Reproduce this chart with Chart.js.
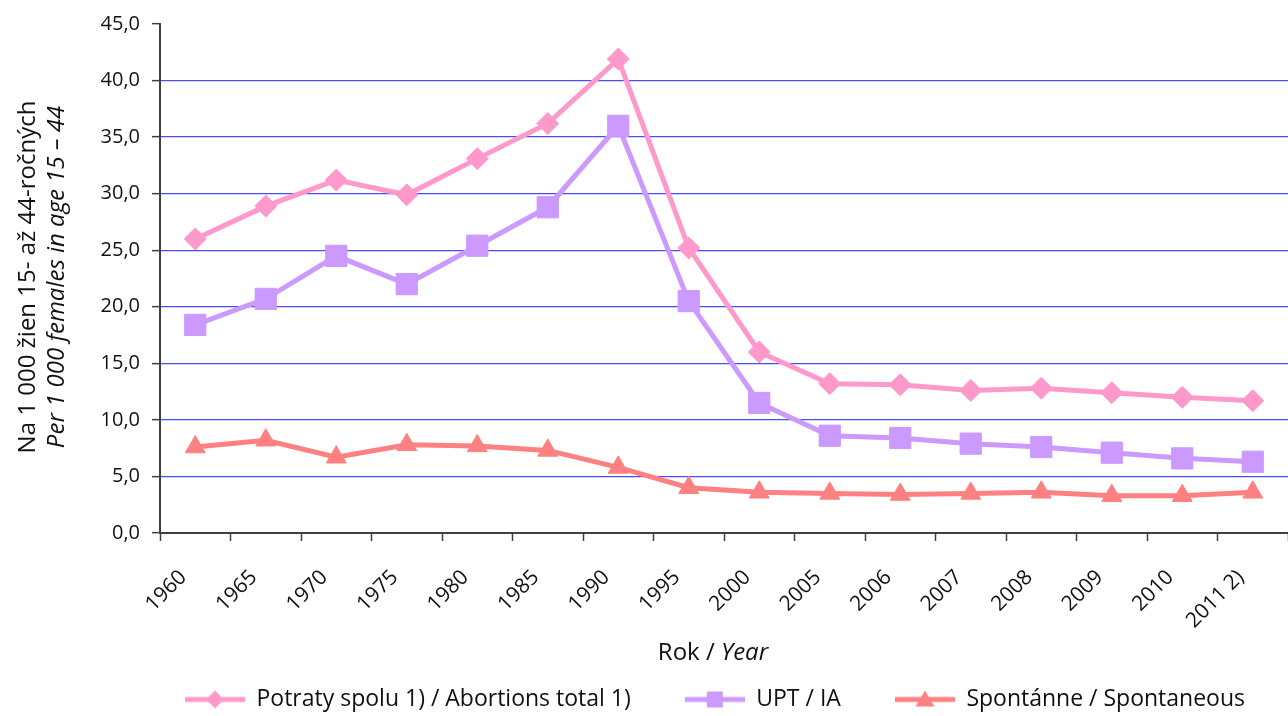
<!DOCTYPE html>
<html><head><meta charset="utf-8">
<script src="https://cdn.jsdelivr.net/npm/chart.js@4/dist/chart.umd.min.js"></script>
<style>html,body{margin:0;padding:0;background:#fff;}#wrap{width:1288px;height:716px;}</style>
</head><body><div id="wrap"><canvas id="c" width="1288" height="716"></canvas></div>
<script>
const years = ['1960','1965','1970','1975','1980','1985','1990','1995','2000','2005','2006','2007','2008','2009','2010','2011 2)'];
const totalAbortions = [26.0,28.9,31.2,29.9,33.1,36.2,41.9,25.2,16.0,13.2,13.1,12.6,12.8,12.4,12.0,11.7];
const inducedAbortions = [18.4,20.7,24.5,22.0,25.4,28.8,36.0,20.5,11.5,8.6,8.4,7.9,7.6,7.1,6.6,6.3];
const spontaneousAbortions = [7.6,8.2,6.7,7.8,7.7,7.3,5.8,4.0,3.6,3.5,3.4,3.5,3.6,3.3,3.3,3.6];
const yTickLabels = ['0,0','5,0','10,0','15,0','20,0','25,0','30,0','35,0','40,0','45,0'];
const seriesNames = ['Potraty spolu 1) / Abortions total 1)','UPT / IA','Spontánne / Spontaneous'];
const yTitle1 = 'Na 1 000 žien 15- až 44-ročných';
const yTitle2 = 'Per 1 000 females in age 15 – 44';
const xTitleA = 'Rok / ';
const xTitleB = 'Year';

const FONT = 'Open Sans';
const PINK = '#FF99CC', PURPLE = '#CC99FF', RED = '#FF8080';
const PAD_BOTTOM = -5;

function legendIcon(color, shape) {
  const cv = document.createElement('canvas');
  cv.width = 60; cv.height = 22;
  const g = cv.getContext('2d');
  g.strokeStyle = color; g.lineWidth = 5;
  g.beginPath(); g.moveTo(0, 11); g.lineTo(60, 11); g.stroke();
  g.fillStyle = color;
  g.beginPath();
  if (shape === 'diamond') { g.moveTo(30, 2); g.lineTo(39, 11); g.lineTo(30, 20); g.lineTo(21, 11); }
  else if (shape === 'square') { g.rect(22, 3, 16, 16); }
  else { g.moveTo(30, 2); g.lineTo(39.5, 18); g.lineTo(20.5, 18); }
  g.closePath(); g.fill();
  return cv;
}
const icons = [legendIcon(PINK,'diamond'), legendIcon(PURPLE,'square'), legendIcon(RED,'triangle')];

const TITLE_SIZE = 24;
const titlesPlugin = {
  id: 'titles',
  afterDraw(chart) {
    const ctx = chart.ctx;
    ctx.save();
    ctx.fillStyle = '#111';
    ctx.textAlign = 'center';
    ctx.textBaseline = 'middle';
    ctx.translate(28, 277);
    ctx.rotate(-Math.PI / 2);
    ctx.font = TITLE_SIZE + 'px "' + FONT + '"';
    ctx.fillText(yTitle1, 0, 0);
    ctx.font = 'italic ' + TITLE_SIZE + 'px "' + FONT + '"';
    ctx.fillText(yTitle2, 0, 29);
    ctx.restore();
    ctx.save();
    ctx.fillStyle = '#111';
    ctx.textBaseline = 'middle';
    ctx.textAlign = 'left';
    ctx.font = TITLE_SIZE + 'px "' + FONT + '"';
    const wa = ctx.measureText(xTitleA).width;
    ctx.font = 'italic ' + TITLE_SIZE + 'px "' + FONT + '"';
    const wb = ctx.measureText(xTitleB).width;
    const x0 = 713 - (wa + wb) / 2;
    ctx.font = TITLE_SIZE + 'px "' + FONT + '"';
    ctx.fillText(xTitleA, x0, 653);
    ctx.font = 'italic ' + TITLE_SIZE + 'px "' + FONT + '"';
    ctx.fillText(xTitleB, x0 + wa, 653);
    ctx.restore();
  }
};
const legendShift = {
  id: 'legendShift',
  afterLayout(chart) {
    const lg = chart.legend; if (!lg) return;
    const dx = 71;
    lg.left += dx; lg.right += dx;
  }
};

new Chart(document.getElementById('c'), {
  type: 'line',
  data: {
    labels: years,
    datasets: [
      { label: seriesNames[0], data: totalAbortions, borderColor: PINK, backgroundColor: PINK, borderWidth: 5,
        pointStyle: 'rectRot', pointRadius: 11, pointBorderWidth: 1, pointBorderColor: PINK, pointBackgroundColor: PINK, tension: 0, clip: false },
      { label: seriesNames[1], data: inducedAbortions, borderColor: PURPLE, backgroundColor: PURPLE, borderWidth: 5,
        pointStyle: 'rect', pointRadius: 15, pointBorderWidth: 1, pointBorderColor: PURPLE, pointBackgroundColor: PURPLE, tension: 0, clip: false },
      { label: seriesNames[2], data: spontaneousAbortions, borderColor: RED, backgroundColor: RED, borderWidth: 5,
        pointStyle: 'triangle', pointRadius: 11.5, pointBorderWidth: 1, pointBorderColor: RED, pointBackgroundColor: RED, tension: 0, clip: false }
    ]
  },
  options: {
    responsive: false,
    animation: false,
    devicePixelRatio: 1,
    layout: { autoPadding: false, padding: { top: 20, right: 0, left: 0, bottom: PAD_BOTTOM } },
    plugins: {
      tooltip: { enabled: false },
      legend: {
        position: 'bottom',
        labels: {
          usePointStyle: true,
          pointStyleWidth: 60,
          padding: 54,
          color: '#111',
          font: { family: FONT, size: 23 },
          generateLabels(chart) {
            return chart.data.datasets.map((ds, i) => ({
              text: ds.label, pointStyle: icons[i], fillStyle: ds.borderColor, strokeStyle: ds.borderColor,
              lineWidth: 0, datasetIndex: i, hidden: false, fontColor: '#111'
            }));
          }
        }
      }
    },
    scales: {
      x: {
        offset: true,
        grid: { display: true, drawOnChartArea: false, offset: true, tickLength: 8, tickColor: '#404040', tickWidth: 1.5 },
        border: { color: '#404040', width: 2 },
        ticks: { color: '#111', font: { family: FONT, size: 21 }, minRotation: 45, maxRotation: 45, autoSkip: false, padding: 24, labelOffset: -12 },
        afterFit(s) {
          const lh = s.chart.legend ? s.chart.legend.height : 40;
          s.height = 716 - 533 - lh - PAD_BOTTOM;
          s.paddingRight = 0; s.paddingLeft = 0;
        }
      },
      y: {
        min: 0, max: 45,
        ticks: { stepSize: 5, color: '#111', font: { family: FONT, size: 20 }, padding: 12,
          callback: (v, i) => yTickLabels[i] },
        grid: {
          color: (c) => (c.tick && c.tick.value === 45) ? 'rgba(0,0,0,0)' : '#4b4bf5',
          lineWidth: 1.3, tickLength: 8, tickColor: '#404040', tickWidth: 1.5
        },
        border: { color: '#404040', width: 2 },
        afterFit(s) { s.width = 160; }
      }
    }
  },
  plugins: [titlesPlugin, legendShift]
});
</script></body></html>
